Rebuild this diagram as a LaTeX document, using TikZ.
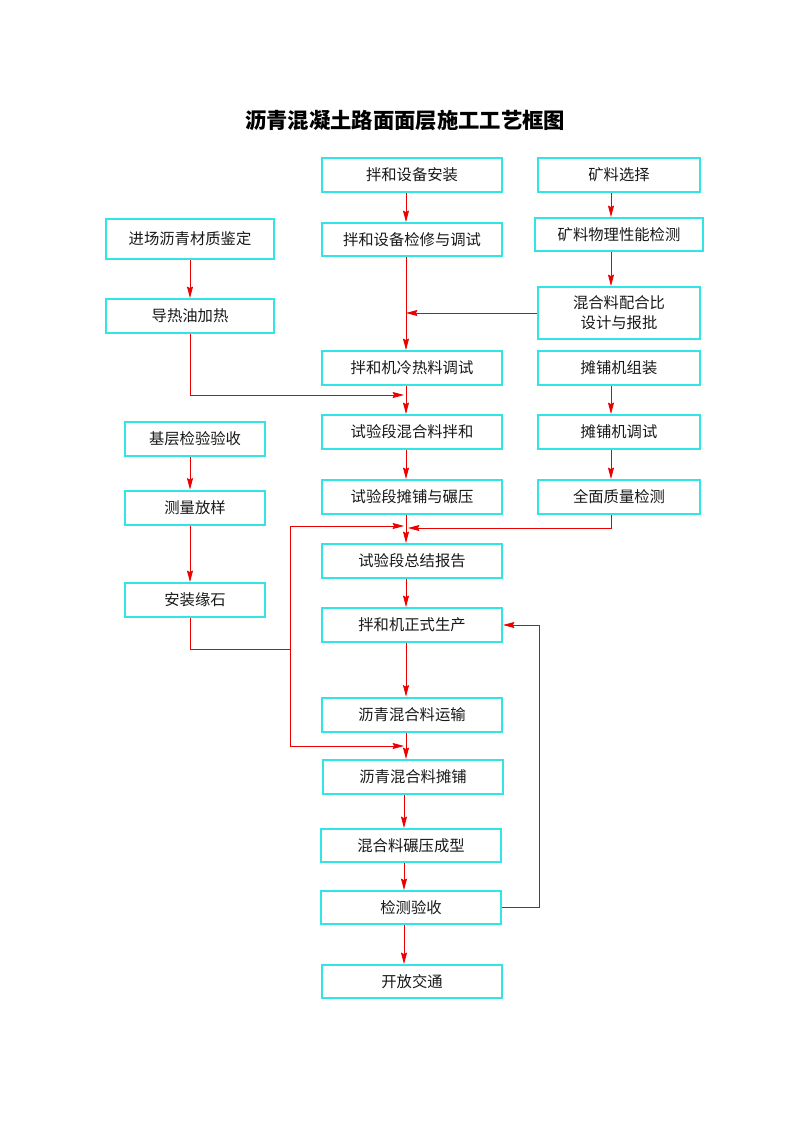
\documentclass[tikz,border=0pt]{standalone}
\usepackage{fontspec}
\setmainfont{Noto Sans CJK SC}
\usetikzlibrary{arrows.meta}
\definecolor{boxc}{RGB}{51,228,230}
\definecolor{arrc}{RGB}{235,0,0}
\tikzset{
  box/.style={draw=boxc, line width=1.5pt, fill=white, inner sep=0pt, align=center,
    text=black!90, font=\fontsize{11.5}{15}\selectfont},
  sz/.style 2 args={minimum width=#1*0.75pt, minimum height=#2*0.75pt},
  arr/.style={draw=arrc, line width=0.6pt, -{Stealth[length=8.5pt,width=4.5pt,inset=1pt]}},
  ln/.style={draw=arrc, line width=0.6pt},
  ttl/.style={font=\fontsize{16}{20}\selectfont\bfseries, text=black},
}
\begin{document}
\begin{tikzpicture}[x=0.75pt,y=-0.75pt]
\useasboundingbox[fill=white] (0,0) rectangle (793,1122);
\node[ttl] (title) at (405,120) {沥青混凝土路面面层施工工艺框图};
% centre column
\node[box, sz={180}{34}] (n1) at (412,175) {拌和设备安装};
\node[box, sz={180}{33}] (n2) at (412,239.5) {拌和设备检修与调试};
\node[box, sz={180}{34}] (n3) at (412,368) {拌和机冷热料调试};
\node[box, sz={180}{34}] (n4) at (412,432) {试验段混合料拌和};
\node[box, sz={180}{34}] (n5) at (412,497) {试验段摊铺与碾压};
\node[box, sz={180}{34}] (n6) at (412,561) {试验段总结报告};
\node[box, sz={180}{34}] (n7) at (412,625) {拌和机正式生产};
\node[box, sz={180}{34}] (n8) at (412,714.5) {沥青混合料运输};
\node[box, sz={180}{34}] (n9) at (413,777) {沥青混合料摊铺};
\node[box, sz={180}{33}] (n10) at (411,845.5) {混合料碾压成型};
\node[box, sz={180}{33}] (n11) at (411,907.5) {检测验收};
\node[box, sz={180}{33}] (n12) at (412,981.5) {开放交通};
% right column
\node[box, sz={162}{34}] (r1) at (619,175) {矿料选择};
\node[box, sz={168}{33}] (r2) at (619,234.5) {矿料物理性能检测};
\node[box, sz={162}{52}] (r3) at (619,313) {混合料配合比\\设计与报批};
\node[box, sz={162}{34}] (r4) at (619,368) {摊铺机组装};
\node[box, sz={162}{34}] (r5) at (619,432) {摊铺机调试};
\node[box, sz={162}{34}] (r6) at (619,497) {全面质量检测};
% left column
\node[box, sz={168}{40}] (l1) at (190,239) {进场沥青材质鉴定};
\node[box, sz={168}{34}] (l2) at (190,316) {导热油加热};
\node[box, sz={140}{34}] (l3) at (195,439) {基层检验验收};
\node[box, sz={140}{34}] (l4) at (195,507.5) {测量放样};
\node[box, sz={140}{34}] (l5) at (195,600) {安装缘石};
% lanes
\coordinate (cx) at (406,0);
\coordinate (cy) at (404,0);
\coordinate (rx) at (611,0);
\coordinate (lx) at (190,0);
\coordinate (fx) at (539,0);
\coordinate (j1) at (404,395);
\coordinate (j2) at (408,528);
\coordinate (jt) at (290,526);
\coordinate (j3) at (404,526);
\coordinate (jb) at (290,746);
\coordinate (j4) at (404,746);
\coordinate (j5) at (290,649);
% centre arrows
\draw[arr] (n1.south -| cx) -- (n2.north -| cx);
\draw[arr] (n2.south -| cx) -- (n3.north -| cx);
\draw[arr] (n3.south -| cx) -- (n4.north -| cx);
\draw[arr] (n4.south -| cx) -- (n5.north -| cx);
\draw[arr] (n5.south -| cx) -- (n6.north -| cx);
\draw[arr] (n6.south -| cx) -- (n7.north -| cx);
\draw[arr] (n7.south -| cx) -- (n8.north -| cx);
\draw[arr] (n8.south -| cx) -- (n9.north -| cx);
\draw[arr] (n9.south -| cy) -- (n10.north -| cy);
\draw[arr] (n10.south -| cy) -- (n11.north -| cy);
\draw[arr] (n11.south -| cy) -- (n12.north -| cy);
% right arrows
\draw[arr] (r1.south -| rx) -- (r2.north -| rx);
\draw[arr] (r2.south -| rx) -- (r3.north -| rx);
\draw[arr] (r4.south -| rx) -- (r5.north -| rx);
\draw[arr] (r5.south -| rx) -- (r6.north -| rx);
% left arrows
\draw[arr] (l1.south -| lx) -- (l2.north -| lx);
\draw[arr] (l3.south -| lx) -- (l4.north -| lx);
\draw[arr] (l4.south -| lx) -- (l5.north -| lx);
% joins
\draw[arr] (r3.west) -- (r3.west -| cx);
\draw[arr] (l2.south -| lx) |- (j1);
\draw[arr] (r6.south -| rx) |- (j2);
\draw[ln] (jt) -- (jb);
\draw[arr] (jt) -- (j3);
\draw[arr] (jb) -- (j4);
\draw[ln] (l5.south -| lx) |- (j5);
\draw[arr] (n11.east) -| (fx |- n7.east) -- (n7.east);
\end{tikzpicture}
\end{document}
